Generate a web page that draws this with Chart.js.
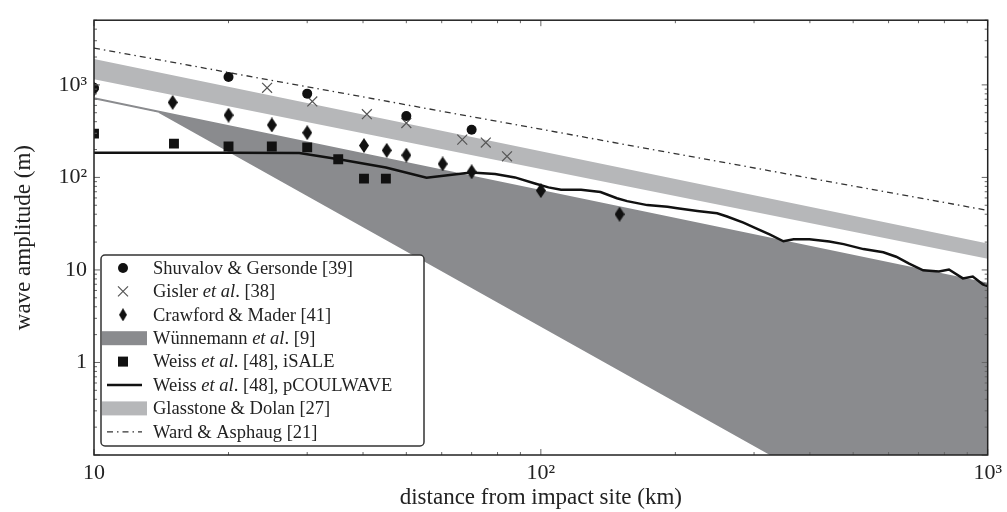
<!DOCTYPE html>
<html>
<head>
  <title>Wave amplitude vs distance</title>
  <script src="https://cdn.jsdelivr.net/npm/chart.js"></script>
  <style>
    body { margin: 0; background: #fff; }
    #wrap { width: 1007px; height: 512px; }
  </style>
</head>
<body>
  <div id="wrap"><canvas id="waveChart"></canvas></div>

  <script>
    // Shuvalov & Gersonde [39]
    const shuvX = [10, 20, 30, 50, 70];
    const shuvY = [930, 1215, 804, 460, 327];
    // Gisler et al. [38]
    const gislerX = [24.4, 30.8, 40.8, 50, 66.7, 75.3, 84];
    const gislerY = [930, 662, 482, 387, 256, 238, 169];
    // Crawford & Mader [41]
    const crawX = [10, 15, 20, 25, 30, 40.2, 45.2, 50, 60.3, 70, 100, 150];
    const crawY = [900, 646, 471, 369, 304, 221, 196, 174, 140, 115, 72, 40];
    // Weiss et al. [48], iSALE
    const isaleX = [10, 15.1, 20, 25, 30, 35.2, 40.2, 45];
    const isaleY = [297, 232, 216, 216, 211, 157, 97, 97];
    // Weiss et al. [48], pCOULWAVE
    const coulX = [10, 20, 28.8, 35.3, 45, 55.5, 69.8, 79, 87.5, 97, 104, 111, 123, 136, 148, 156, 173, 192, 202, 224,
                   248, 261, 284, 304, 325, 349, 368, 399, 442, 476, 527, 584, 624, 667, 717, 778, 819, 880, 926, 975, 1000];
    const coulY = [185, 185, 183, 157, 128, 99, 113, 109, 100, 86, 78, 73.6, 73.6, 69.5, 59.6, 55.4, 50.2, 48.2, 46.4, 43.4,
                   41, 37.8, 32.4, 28, 24.2, 20.4, 21.5, 21.5, 20.3, 19, 16.8, 15.5, 13.9, 11.7, 9.9, 9.6, 10.1, 8.1, 8.5, 7.0, 6.7];
    // Wünnemann et al. [9] region (outline, clockwise)
    const wuenX = [10, 1000, 1000, 329, 14];
    const wuenY = [716, 7.1, 0.1, 0.1, 506];
    // Glasstone & Dolan [27] band (outline)
    const glassX = [10, 1000, 1000, 10];
    const glassY = [1900, 19.3, 13.2, 1150];
    // Ward & Asphaug [21]
    const wardX = [10, 1000];
    const wardY = [2500, 44];

    const xTicks = [10, 100, 1000];
    const yTicks = [1, 10, 100, 1000];
    const tickText = {1: '1', 10: '10', 100: '10²', 1000: '10³'};

    const serif = "'Liberation Serif', 'Times New Roman', serif";
    const darkGray = '#8a8b8e';
    const lightGray = '#b6b7b9';

    const pts = (xs, ys) => xs.map((x, i) => ({x: x, y: ys[i]}));

    // tall thin diamond marker
    const diamond = document.createElement('canvas');
    diamond.width = 10;
    diamond.height = 15;
    const dctx = diamond.getContext('2d');
    dctx.fillStyle = '#111';
    dctx.beginPath();
    dctx.moveTo(5, 0); dctx.lineTo(10, 7.5); dctx.lineTo(5, 15); dctx.lineTo(0, 7.5);
    dctx.closePath();
    dctx.fill();

    const legendItems = [
      {kind: 'circle', text: [['Shuvalov & Gersonde [39]', false]]},
      {kind: 'cross', text: [['Gisler ', false], ['et al', true], ['. [38]', false]]},
      {kind: 'diamond', text: [['Crawford & Mader [41]', false]]},
      {kind: 'band', color: darkGray, text: [['Wünnemann ', false], ['et al', true], ['. [9]', false]]},
      {kind: 'square', text: [['Weiss ', false], ['et al', true], ['. [48], iSALE', false]]},
      {kind: 'line', text: [['Weiss ', false], ['et al', true], ['. [48], pCOULWAVE', false]]},
      {kind: 'band', color: lightGray, text: [['Glasstone & Dolan [27]', false]]},
      {kind: 'dashdot', text: [['Ward & Asphaug [21]', false]]}
    ];

    const frameTicks = {
      id: 'frameTicks',
      afterDatasetsDraw(chart) {
        const {ctx, chartArea: a, scales} = chart;
        ctx.save();
        ctx.strokeStyle = '#666';
        ctx.lineWidth = 1;
        ['x', 'y'].forEach(id => {
          const s = scales[id];
          const lo = Math.floor(Math.log10(s.min));
          const hi = Math.ceil(Math.log10(s.max));
          for (let d = lo; d <= hi; d++) {
            for (let k = 1; k <= 9; k++) {
              const v = k * Math.pow(10, d);
              if (v < s.min * 0.999 || v > s.max * 1.001) continue;
              const len = k === 1 ? 6 : 3;
              const p = s.getPixelForValue(v);
              ctx.beginPath();
              if (id === 'x') {
                ctx.moveTo(p, a.bottom); ctx.lineTo(p, a.bottom - len);
                ctx.moveTo(p, a.top); ctx.lineTo(p, a.top + len);
              } else {
                ctx.moveTo(a.left, p); ctx.lineTo(a.left + len, p);
                ctx.moveTo(a.right, p); ctx.lineTo(a.right - len, p);
              }
              ctx.stroke();
            }
          }
        });
        ctx.strokeStyle = '#222';
        ctx.lineWidth = 1.5;
        ctx.strokeRect(a.left, a.top, a.right - a.left, a.bottom - a.top);
        ctx.restore();
      }
    };

    const paperLegend = {
      id: 'paperLegend',
      afterDraw(chart) {
        const {ctx, chartArea: a} = chart;
        const x0 = a.left + 7, y0 = a.bottom - 200, w = 323, h = 191;
        ctx.save();
        ctx.beginPath();
        ctx.roundRect(x0, y0, w, h, 4);
        ctx.fillStyle = '#fff';
        ctx.fill();
        ctx.strokeStyle = '#333';
        ctx.lineWidth = 1.5;
        ctx.stroke();

        legendItems.forEach((item, i) => {
          const cy = y0 + 13 + i * 23.4;
          const sx = x0 + 22;
          ctx.fillStyle = '#111';
          ctx.strokeStyle = '#111';
          ctx.setLineDash([]);
          if (item.kind === 'circle') {
            ctx.beginPath(); ctx.arc(sx, cy, 5, 0, Math.PI * 2); ctx.fill();
          } else if (item.kind === 'cross') {
            ctx.strokeStyle = '#555'; ctx.lineWidth = 1.2;
            ctx.beginPath();
            ctx.moveTo(sx - 5, cy - 5); ctx.lineTo(sx + 5, cy + 5);
            ctx.moveTo(sx + 5, cy - 5); ctx.lineTo(sx - 5, cy + 5);
            ctx.stroke();
          } else if (item.kind === 'diamond') {
            ctx.drawImage(diamond, sx - 4, cy - 6.5, 8, 13);
          } else if (item.kind === 'square') {
            ctx.fillRect(sx - 5, cy - 5, 10, 10);
          } else if (item.kind === 'band') {
            ctx.fillStyle = item.color;
            ctx.fillRect(x0 + 1, cy - 7, 45, 14);
          } else if (item.kind === 'line') {
            ctx.lineWidth = 2.5;
            ctx.beginPath(); ctx.moveTo(x0 + 6, cy); ctx.lineTo(x0 + 41, cy); ctx.stroke();
          } else if (item.kind === 'dashdot') {
            ctx.strokeStyle = '#333'; ctx.lineWidth = 1.3;
            ctx.setLineDash([6, 4, 1.5, 4]);
            ctx.beginPath(); ctx.moveTo(x0 + 6, cy); ctx.lineTo(x0 + 41, cy); ctx.stroke();
            ctx.setLineDash([]);
          }
          let tx = x0 + 52;
          ctx.fillStyle = '#222';
          ctx.textBaseline = 'middle';
          item.text.forEach(([str, it]) => {
            ctx.font = (it ? 'italic ' : '') + '18.5px ' + serif;
            ctx.fillText(str, tx, cy + 1);
            tx += ctx.measureText(str).width;
          });
        });
        ctx.restore();
      }
    };

    const ctx = document.getElementById('waveChart').getContext('2d');
    new Chart(ctx, {
      type: 'scatter',
      data: {
        datasets: [
          {
            label: 'Shuvalov & Gersonde [39]',
            data: pts(shuvX, shuvY),
            pointStyle: 'circle', pointRadius: 5,
            backgroundColor: '#111', borderColor: '#111', borderWidth: 0,
            order: 1
          },
          {
            label: 'Gisler et al. [38]',
            data: pts(gislerX, gislerY),
            pointStyle: 'crossRot', pointRadius: 7,
            borderColor: '#555', borderWidth: 1.2,
            order: 1
          },
          {
            label: 'Crawford & Mader [41]',
            data: pts(crawX, crawY),
            pointStyle: diamond,
            order: 1
          },
          {
            label: 'Wünnemann et al. [9]',
            data: pts(wuenX, wuenY),
            showLine: true, pointRadius: 0,
            borderColor: darkGray, borderWidth: 2,
            backgroundColor: darkGray, fill: 'shape',
            order: 5
          },
          {
            label: 'Weiss et al. [48], iSALE',
            data: pts(isaleX, isaleY),
            pointStyle: 'rect', pointRadius: 7,
            backgroundColor: '#111', borderColor: '#111', borderWidth: 0,
            order: 1
          },
          {
            label: 'Weiss et al. [48], pCOULWAVE',
            data: pts(coulX, coulY),
            showLine: true, pointRadius: 0,
            borderColor: '#111', borderWidth: 2.5,
            order: 3
          },
          {
            label: 'Glasstone & Dolan [27]',
            data: pts(glassX, glassY),
            showLine: true, pointRadius: 0,
            borderWidth: 0, borderColor: lightGray,
            backgroundColor: lightGray, fill: 'shape',
            order: 6
          },
          {
            label: 'Ward & Asphaug [21]',
            data: pts(wardX, wardY),
            showLine: true, pointRadius: 0,
            borderColor: '#333', borderWidth: 1.3,
            borderDash: [6, 4, 1.5, 4],
            order: 4
          }
        ]
      },
      options: {
        responsive: true,
        maintainAspectRatio: false,
        animation: false,
        layout: { padding: { top: 10, right: 15, left: 0, bottom: 0 } },
        plugins: {
          legend: { display: false },
          tooltip: { enabled: false }
        },
        scales: {
          x: {
            type: 'logarithmic',
            min: 10, max: 1000,
            afterBuildTicks: s => { s.ticks = xTicks.map(v => ({value: v})); },
            afterFit: s => { s.height = 57; },
            grid: { display: false, drawTicks: false },
            border: { display: false },
            ticks: {
              callback: v => tickText[v],
              font: { family: serif, size: 22 },
              color: '#222', padding: 5, maxRotation: 0, autoSkip: false
            },
            title: {
              display: true, text: 'distance from impact site (km)',
              font: { family: serif, size: 23 }, color: '#222',
              padding: { top: 0, bottom: 0 }
            }
          },
          y: {
            type: 'logarithmic',
            min: 0.1, max: 5000,
            afterBuildTicks: s => { s.ticks = yTicks.map(v => ({value: v})); },
            afterFit: s => { s.width = 94; },
            grid: { display: false, drawTicks: false },
            border: { display: false },
            ticks: {
              callback: v => tickText[v],
              font: { family: serif, size: 22 },
              color: '#222', padding: 7, autoSkip: false
            },
            title: {
              display: true, text: 'wave amplitude (m)',
              font: { family: serif, size: 23 }, color: '#222',
              padding: { top: 10, bottom: 0 }
            }
          }
        }
      },
      plugins: [frameTicks, paperLegend]
    });
  </script>
</body>
</html>
